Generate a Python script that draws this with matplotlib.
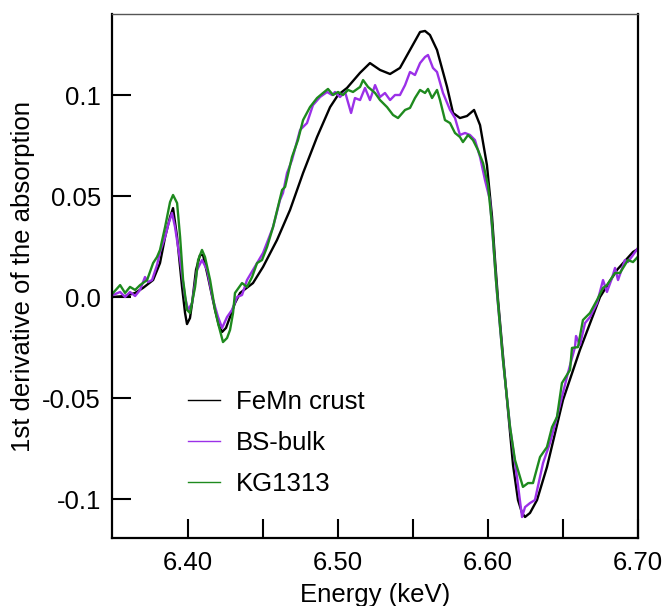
import numpy as np
import matplotlib
matplotlib.use('Agg')
import matplotlib.pyplot as plt

# FeMn crust
energy_femn = [6.3493, 6.358, 6.3647, 6.370, 6.3767, 6.3813, 6.3847, 6.388, 6.390, 6.3927,
               6.396, 6.398, 6.3993, 6.4013, 6.4027, 6.4053, 6.408, 6.410, 6.4133, 6.418,
               6.4207, 6.4227, 6.4253, 6.428, 6.4313, 6.4347, 6.4433, 6.450, 6.4593, 6.468,
               6.4767, 6.486, 6.4947, 6.500, 6.506, 6.5147, 6.5213, 6.528, 6.5347, 6.5413,
               6.548, 6.5547, 6.558, 6.5613, 6.566, 6.5727, 6.5767, 6.5813, 6.586, 6.5907,
               6.5947, 6.5993, 6.6027, 6.6047, 6.6067, 6.6100, 6.6127, 6.6167, 6.620, 6.6227,
               6.6247, 6.628, 6.6327, 6.6393, 6.650, 6.6613, 6.6747, 6.686, 6.6967, 6.700]
deriv_femn = [0.000, 0.0005, 0.002, 0.0045, 0.0084, 0.0168, 0.0297, 0.0396, 0.044, 0.0297,
              0.005, -0.0079, -0.0134, -0.0104, -0.003, 0.0134, 0.0208, 0.0208, 0.0099, -0.0064,
              -0.0144, -0.0173, -0.0153, -0.0099, -0.003, 0.002, 0.0069, 0.0149, 0.0282, 0.0431,
              0.0614, 0.0792, 0.094, 0.100, 0.1035, 0.111, 0.1158, 0.1124, 0.1104, 0.1134,
              0.1223, 0.1312, 0.1317, 0.1297, 0.1223, 0.104, 0.0911, 0.0886, 0.0896, 0.0926,
              0.0851, 0.0653, 0.0396, 0.0183, -0.0015, -0.0290, -0.051, -0.0832, -0.1005, -0.1069,
              -0.1089, -0.1069, -0.1005, -0.0842, -0.051, -0.0262, 0.000, 0.0134, 0.0223, 0.0238]

# BS-bulk
energy_bs = [6.350, 6.3547, 6.358, 6.3613, 6.3647, 6.368, 6.3713, 6.3733, 6.376, 6.3793,
             6.3813, 6.3847, 6.3867, 6.3893, 6.3913, 6.3947, 6.398, 6.400, 6.4027, 6.406,
             6.4093, 6.4127, 6.4167, 6.420, 6.4227, 6.426, 6.4293, 6.4327, 6.436, 6.4393,
             6.4433, 6.450, 6.4567, 6.4613, 6.4633, 6.466, 6.4693, 6.4747, 6.4793, 6.4833,
             6.488, 6.4927, 6.496, 6.498, 6.5013, 6.5047, 6.5087, 6.5113, 6.5147, 6.518,
             6.5213, 6.5247, 6.528, 6.5313, 6.5347, 6.538, 6.5413, 6.5447, 6.548, 6.5513,
             6.5547, 6.558, 6.560, 6.5633, 6.566, 6.570, 6.5747, 6.578, 6.5813, 6.5847,
             6.588, 6.5913, 6.5947, 6.598, 6.6013, 6.606, 6.610, 6.6147, 6.6193, 6.6227,
             6.6247, 6.628, 6.6313, 6.6367, 6.6413, 6.646, 6.6493, 6.6533, 6.658, 6.6587,
             6.6613, 6.6647, 6.668, 6.6727, 6.6767, 6.6793, 6.6827, 6.6847, 6.6867, 6.6913,
             6.6933, 6.6967, 6.700]
deriv_bs = [0.0010, 0.0025, 0.000, 0.0025, 0.0005, 0.0035, 0.0099, 0.0074, 0.0084, 0.0158,
            0.0223, 0.0297, 0.0356, 0.0416, 0.0347, 0.0183, 0.000, -0.0064, -0.003, 0.0134,
            0.0183, 0.0134, -0.0015, -0.0099, -0.0153, -0.0099, -0.0064, 0.000, 0.001, 0.0084,
            0.0134, 0.0218, 0.0347, 0.048, 0.0515, 0.0614, 0.0678, 0.0827, 0.0861, 0.095,
            0.099, 0.1015, 0.1000, 0.1015, 0.099, 0.1015, 0.0911, 0.0985, 0.0975, 0.1035,
            0.0975, 0.1049, 0.099, 0.101, 0.0975, 0.1000, 0.1000, 0.1049, 0.1114, 0.1099,
            0.1158, 0.1188, 0.1198, 0.1134, 0.1114, 0.101, 0.0926, 0.0886, 0.0802, 0.0812,
            0.0802, 0.0777, 0.0693, 0.0579, 0.048, 0.002, -0.0312, -0.0644, -0.0891, -0.1089,
            -0.104, -0.102, -0.1005, -0.0822, -0.0723, -0.0594, -0.0495, -0.0376, -0.0248, -0.0193,
            -0.0238, -0.0129, -0.0099, -0.003, 0.0084, 0.0025, 0.0094, 0.0144, 0.0084, 0.0183,
            0.0173, 0.0208, 0.0243]

# KG1313
energy_kg = [6.350, 6.3547, 6.358, 6.3613, 6.3647, 6.368, 6.3727, 6.3767, 6.3793, 6.3813,
             6.3847, 6.388, 6.390, 6.3927, 6.3947, 6.3967, 6.3993, 6.4013, 6.4047, 6.4067,
             6.4093, 6.4113, 6.4147, 6.418, 6.420, 6.4233, 6.426, 6.428, 6.430, 6.4313,
             6.436, 6.4393, 6.4427, 6.446, 6.4493, 6.4527, 6.4567, 6.4627, 6.4647, 6.4693,
             6.4733, 6.4767, 6.4813, 6.486, 6.490, 6.4933, 6.4967, 6.500, 6.5033, 6.5067,
             6.510, 6.5147, 6.5167, 6.520, 6.5247, 6.528, 6.5327, 6.5367, 6.540, 6.5447,
             6.548, 6.5513, 6.5547, 6.558, 6.560, 6.5627, 6.566, 6.568, 6.5713, 6.5747,
             6.578, 6.5813, 6.5833, 6.5867, 6.590, 6.5933, 6.5967, 6.600, 6.6027, 6.6053,
             6.610, 6.6147, 6.618, 6.6233, 6.6267, 6.630, 6.6347, 6.6393, 6.6427, 6.646,
             6.6493, 6.6547, 6.656, 6.660, 6.6633, 6.668, 6.6727, 6.6767, 6.6793, 6.6847,
             6.688, 6.6933, 6.6967, 6.700]
deriv_kg = [0.002, 0.0059, 0.002, 0.005, 0.0035, 0.0059, 0.0084, 0.0168, 0.0198, 0.0233,
            0.0347, 0.047, 0.0505, 0.0465, 0.0297, 0.0084, -0.0064, -0.0079, 0.005, 0.0183,
            0.0233, 0.0198, 0.0084, -0.0064, -0.0129, -0.0223, -0.0203, -0.0163, -0.0079, 0.002,
            0.0069, 0.005, 0.0099, 0.0168, 0.0183, 0.0248, 0.0347, 0.053, 0.0545, 0.0693,
            0.0777, 0.0876, 0.094, 0.0985, 0.101, 0.103, 0.1000, 0.1015, 0.1000, 0.1025,
            0.1015, 0.104, 0.1074, 0.104, 0.101, 0.0975, 0.094, 0.0901, 0.0886, 0.0926,
            0.0936, 0.0985, 0.1025, 0.101, 0.103, 0.0985, 0.1025, 0.0975, 0.0876, 0.0861,
            0.0812, 0.0792, 0.0767, 0.0802, 0.0777, 0.0728, 0.0663, 0.0554, 0.0356, 0.0084,
            -0.0312, -0.0644, -0.0807, -0.094, -0.0921, -0.0921, -0.0792, -0.0743, -0.0644, -0.0594,
            -0.0426, -0.0361, -0.0252, -0.0248, -0.0114, -0.0079, -0.0015, 0.0045, 0.0059, 0.0119,
            0.0119, 0.0183, 0.0173, 0.0200]

ytick_vals = [-0.1, -0.05, 0.0, 0.05, 0.1]
ytick_labels = ['-0.1', '-0.05', '0.0', '0.05', '0.1']
xtick_vals = [6.40, 6.50, 6.60, 6.70]
xtick_labels = ['6.40', '6.50', '6.60', '6.70']

plt.rcParams['font.family'] = ['Liberation Sans', 'DejaVu Sans']
fs = 18.5

fig = plt.figure(figsize=(6.62, 6.06), dpi=100)
ax = fig.add_axes([0.1692, 0.1122, 0.7945, 0.8647])

ax.plot(energy_femn, deriv_femn, color='black', lw=1.7, label='FeMn crust')
ax.plot(energy_bs, deriv_bs, color='#9b30e8', lw=1.7, label='BS-bulk')
ax.plot(energy_kg, deriv_kg, color='#1e8a1e', lw=1.7, label='KG1313')

ax.set_xlim(6.3493, 6.70)
ax.set_ylim(-0.1193, 0.1401)

ax.set_xticks(xtick_vals)
ax.set_xticklabels(xtick_labels)
ax.set_xticks([6.45, 6.55, 6.65], minor=True)
ax.set_yticks(ytick_vals)
ax.set_yticklabels(ytick_labels)

ax.tick_params(axis='both', which='both', direction='in', length=13.5, width=1.5,
               labelsize=fs, colors='black')
ax.tick_params(axis='x', which='both', pad=9)
ax.tick_params(axis='y', pad=8)

for side in ['left', 'bottom', 'right']:
    ax.spines[side].set_linewidth(1.6)
ax.spines['top'].set_linewidth(1.0)
ax.spines['top'].set_color('#555555')

ax.set_xlabel('Energy (keV)', fontsize=fs, labelpad=6)
ax.set_ylabel('1st derivative of the absorption', fontsize=fs, labelpad=5)

leg = ax.legend(loc='center left', bbox_to_anchor=(0.1445, 0.181), frameon=False,
                fontsize=fs, handlelength=1.25, handletextpad=0.6, labelspacing=0.67,
                borderpad=0, borderaxespad=0)
for line in leg.get_lines():
    line.set_linewidth(1.0)

fig.savefig('out.png', dpi=100)
